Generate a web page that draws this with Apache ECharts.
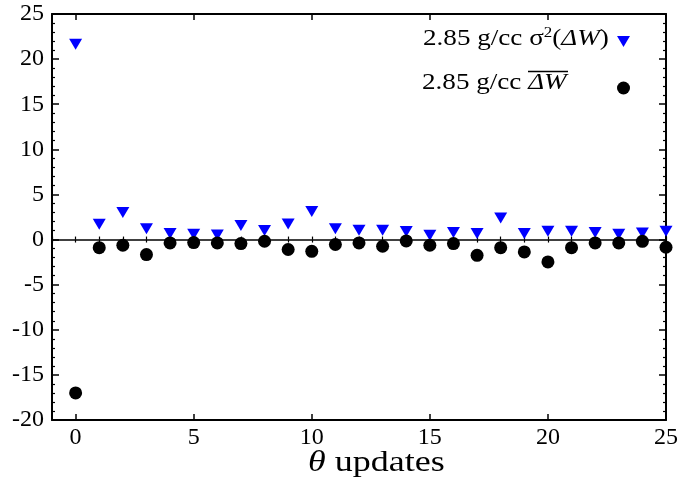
<!DOCTYPE html>
<html><head><meta charset="utf-8">
<script src="https://cdn.jsdelivr.net/npm/echarts@6/dist/echarts.min.js"></script>
<style>html,body{margin:0;padding:0;background:#fff}#c{width:683px;height:483px}</style>
</head><body><div id="c"></div>
<script>
var xUpdates = [0,1,2,3,4,5,6,7,8,9,10,11,12,13,14,15,16,17,18,19,20,21,22,23,24,25];
var sigmaVals = [21.65,1.7,3.0,1.2,0.66,0.6,0.5,1.55,1.0,1.73,3.1,1.2,1.03,1.03,0.9,0.47,0.77,0.66,2.38,0.66,0.92,0.92,0.77,0.6,0.73,0.92];
var meanVals = [-17.0,-0.9,-0.63,-1.67,-0.37,-0.33,-0.37,-0.45,-0.19,-1.1,-1.3,-0.55,-0.37,-0.74,-0.15,-0.63,-0.45,-1.75,-0.9,-1.37,-2.48,-0.9,-0.37,-0.37,-0.2,-0.85];
var xMajorTicks = [0,5,10,15,20,25];
var serif = 'Liberation Serif';

function pairs(xs, ys){ return xs.map(function(x,i){return [x, ys[i]];}); }

var chart = echarts.init(document.getElementById('c'), null, {renderer:'canvas'});
var frame = {show:true, onZero:false, lineStyle:{color:'#000', width:2}};
function xAx(pos, major){
  return {
    type:'value', min:-1, max:25, position:pos,
    interval: major ? undefined : 1,
    axisLine: major ? frame : {show:false},
    axisTick: major ? {show:true, inside:true, length:6, customValues:xMajorTicks, lineStyle:{color:'#000',width:1.5}}
                    : {show:true, inside:true, length:3, lineStyle:{color:'#000',width:1.2}},
    axisLabel: (major && pos==='bottom') ? {show:true, customValues:xMajorTicks, color:'#000', fontFamily:serif, fontSize:24, margin:6} : {show:false},
    splitLine:{show:false}
  };
}
function yAx(pos, showLabel){
  return {
    type:'value', min:-20, max:25, interval:5, position:pos,
    axisLine: frame,
    axisTick:{show:true, inside:true, length:7, lineStyle:{color:'#000',width:1.5}},
    minorTick:{show:true, splitNumber:5, length:3, lineStyle:{color:'#000',width:1.2}},
    axisLabel: showLabel ? {show:true, color:'#000', fontFamily:serif, fontSize:24, margin:8} : {show:false},
    splitLine:{show:false}
  };
}
var triDown = 'path://M0,0 L2,0 L1,1.7 Z';
var emptyText = {fontSize:8, lineHeight:8, padding:0};

chart.setOption({
  animation:false,
  backgroundColor:'#fff',
  grid:{left:52, right:17, top:14, bottom:63, containLabel:false},
  xAxis:[xAx('bottom',true), xAx('bottom',false), xAx('top',true), xAx('top',false)],
  yAxis:[yAx('left',true), yAx('right',false)],
  legend:[
    {data:[{name:'sigma', icon:triDown}], right:48, top:36, padding:0, itemWidth:13, itemHeight:11,
     formatter:function(){return '';}, textStyle:emptyText},
    {data:['mean'], right:48, top:81.5, padding:0, itemWidth:13, itemHeight:13,
     formatter:function(){return '';}, textStyle:emptyText}
  ],
  graphic:[
    {type:'text', x:423, y:38.5, scaleX:1.13, z:100,
     style:{text:'2.85 g/cc σ{sup|2}({it|ΔW})', fill:'#000', font:'24px Liberation Serif', align:'left', verticalAlign:'middle',
       rich:{sup:{fontFamily:serif, fontSize:15, verticalAlign:'top', padding:[0,0,10,0]}, it:{fontFamily:serif, fontSize:24, fontStyle:'italic'}}}},
    {type:'text', x:422, y:83, scaleX:1.13, z:100,
     style:{text:'2.85 g/cc {it|ΔW}', fill:'#000', font:'24px Liberation Serif', align:'left', verticalAlign:'middle',
       rich:{it:{fontFamily:serif, fontSize:24, fontStyle:'italic'}}}},
    {type:'line', shape:{x1:528, y1:71.5, x2:568, y2:71.5}, style:{stroke:'#000', lineWidth:1.3}, z:100},
    {type:'text', x:308, y:463, scaleX:1.2, z:100,
     style:{text:'{it|θ} updates', fill:'#000', font:'30px Liberation Serif', align:'left', verticalAlign:'middle',
      rich:{it:{fontStyle:'italic', fontFamily:serif, fontSize:30}}}}
  ],
  series:[
    {name:'sigma', type:'scatter', data:pairs(xUpdates, sigmaVals), symbol:'triangle', symbolRotate:180,
     symbolSize:[13,11], itemStyle:{color:'#0000ff', opacity:1}, z:3},
    {name:'mean', type:'scatter', data:pairs(xUpdates, meanVals), symbol:'circle', symbolSize:13,
     itemStyle:{color:'#000', opacity:1}, z:4,
     markLine:{silent:true, symbol:['none','none'], label:{show:false}, lineStyle:{color:'#000', type:'solid', width:1.5},
       data:[{yAxis:0}]}}
  ]
});
</script></body></html>
